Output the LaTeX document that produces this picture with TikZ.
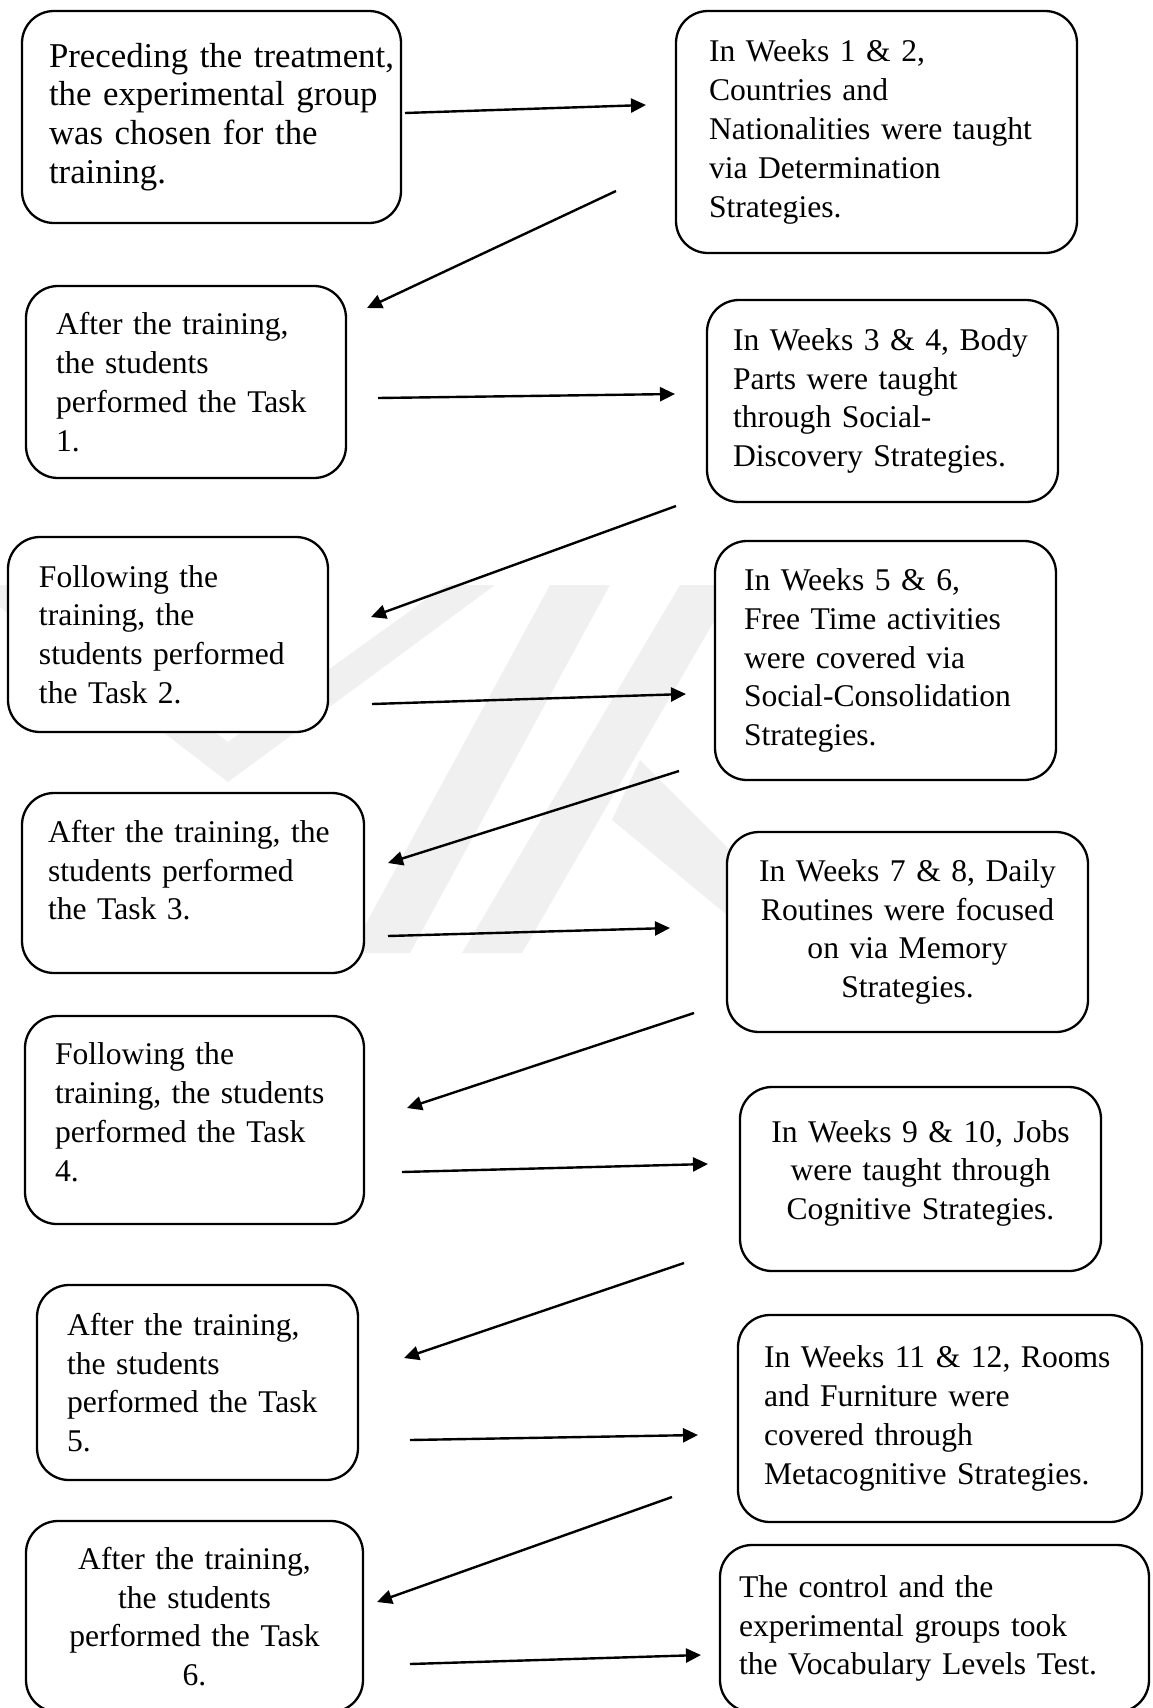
\documentclass[tikz,border=0pt]{standalone}
\usepackage{fontspec}
\setmainfont{Liberation Serif}
\usetikzlibrary{arrows.meta}

\tikzset{
  card/.style={draw, fill=white, rounded corners=16pt, line width=1.15pt,
    inner ysep=0pt, font=\fontsize{15.8}{19.4}\selectfont},
  leftcard/.style 2 args={card, align=left, text width=#1, inner xsep=#2},
  midcard/.style={card, align=center, inner xsep=10pt},
  flow/.style={-{Triangle[length=7.5pt,width=7pt]}, line width=1.2pt},
  wmark/.style={fill=black!6, draw=none}
}

\begin{document}
\begin{tikzpicture}[x=0.5pt, y=-0.5pt]
  \useasboundingbox (0,0) rectangle (1152,1708);
  % faint watermark behind the boxes
  \fill[wmark] (228,782) -- (495,585) -- (446,585) -- (228,742) -- (20,585) -- (-29,585) -- cycle;
  \fill[wmark] (550,585) -- (610,585) -- (410,953) -- (350,953) -- cycle;
  \fill[wmark] (680,585) -- (735,585) -- (522,953) -- (462,953) -- cycle;
  \fill[wmark] (640,760) -- (833,953) -- (773,953) -- (612,820) -- cycle;

  % left column
  \node [leftcard={162.5pt}{13.5pt}, minimum height=106pt,
    font=\fontsize{17.4}{19.4}\selectfont] (pre) at (211.5,117)
    {\mbox{Preceding the treatment,}\\ \mbox{the experimental group}\\ was chosen for the\\ training.};
  \node [leftcard={130pt}{15pt}, minimum height=96pt] (task1) at (186,382)
    {After the training,\\ the students\\ performed the Task\\ 1.};
  \node [leftcard={129pt}{15.5pt}, minimum height=97.5pt] (task2) at (168,634.5)
    {Following the\\ training, the\\ students performed\\ the Task 2.};
  \node [leftcard={145pt}{13pt}, minimum height=90pt, text depth=51.8pt] (task3) at (193,883)
    {After the training, the\\ students performed\\ the Task 3.};
  \node [leftcard={139.5pt}{15pt}, minimum height=104pt, text depth=66.2pt] (task4) at (194.5,1120)
    {Following the\\ training, the students\\ performed the Task\\ 4.};
  \node [leftcard={130.5pt}{15pt}, minimum height=97.5pt] (task5) at (197.5,1382.5)
    {After the training,\\ the students\\ performed the Task\\ 5.};
  \node [midcard, text width=148.5pt, minimum height=95.5pt] (task6) at (194.5,1616.5)
    {After the training,\\ the students\\ performed the Task\\ 6.};

  % right column
  \node [leftcard={167.5pt}{16.5pt}, minimum height=121pt] (wk12) at (876.5,132)
    {In Weeks 1 \& 2,\\ Countries and\\ Nationalities were taught\\ via Determination\\ Strategies.};
  \node [leftcard={149.5pt}{13pt}, minimum height=101pt] (wk34) at (882.5,401)
    {In Weeks 3 \& 4, Body\\ Parts were taught\\ through Social-\\ Discovery Strategies.};
  \node [leftcard={141.5pt}{14.5pt}, minimum height=119.5pt] (wk56) at (885.5,660.5)
    {In Weeks 5 \& 6,\\ Free Time activities\\ were covered via\\ Social-Consolidation\\ Strategies.};
  \node [midcard, text width=160.5pt, minimum height=100pt] (wk78) at (907.5,932)
    {In Weeks 7 \& 8, Daily\\ Routines were focused\\ on via Memory\\ Strategies.};
  \node [midcard, text width=160.5pt, minimum height=92pt, text depth=47.8pt] (wk910) at (920.5,1179)
    {In Weeks 9 \& 10, Jobs\\ were taught through\\ Cognitive Strategies.};
  \node [leftcard={176pt}{13pt}, minimum height=103.5pt] (wk1112) at (940,1418.5)
    {In Weeks 11 \& 12, Rooms\\ and Furniture were\\ covered through\\ Metacognitive Strategies.};
  \node [leftcard={195.5pt}{9.5pt}, minimum height=83.5pt] (vlt) at (934.5,1628.5)
    {The control and the\\ experimental groups took\\ the Vocabulary Levels Test.};

  % free arrow ends
  \coordinate (pre-o) at (405,113);     \coordinate (wk12-i) at (646,105);
  \coordinate (wk12-o) at (616,191);    \coordinate (task1-i) at (367,308);
  \coordinate (task1-o) at (378,398);   \coordinate (wk34-i) at (675,394);
  \coordinate (wk34-o) at (676,506);    \coordinate (task2-i) at (371,617);
  \coordinate (task2-o) at (372,704);   \coordinate (wk56-i) at (686,694);
  \coordinate (wk56-o) at (679,771);    \coordinate (task3-i) at (388,863);
  \coordinate (task3-o) at (388,936);   \coordinate (wk78-i) at (670,928);
  \coordinate (wk78-o) at (694,1013);   \coordinate (task4-i) at (407,1108);
  \coordinate (task4-o) at (402,1172);  \coordinate (wk910-i) at (708,1164);
  \coordinate (wk910-o) at (684,1263);  \coordinate (task5-i) at (404,1358);
  \coordinate (task5-o) at (410,1440);  \coordinate (wk1112-i) at (698,1435);
  \coordinate (wk1112-o) at (672,1497); \coordinate (task6-i) at (377,1602);
  \coordinate (task6-o) at (410,1664);  \coordinate (vlt-i) at (701,1655);

  \path [flow]
    (pre-o) edge (wk12-i)
    (wk12-o) edge (task1-i)
    (task1-o) edge (wk34-i)
    (wk34-o) edge (task2-i)
    (task2-o) edge (wk56-i)
    (wk56-o) edge (task3-i)
    (task3-o) edge (wk78-i)
    (wk78-o) edge (task4-i)
    (task4-o) edge (wk910-i)
    (wk910-o) edge (task5-i)
    (task5-o) edge (wk1112-i)
    (wk1112-o) edge (task6-i)
    (task6-o) edge (vlt-i)
    ;
\end{tikzpicture}
\end{document}
